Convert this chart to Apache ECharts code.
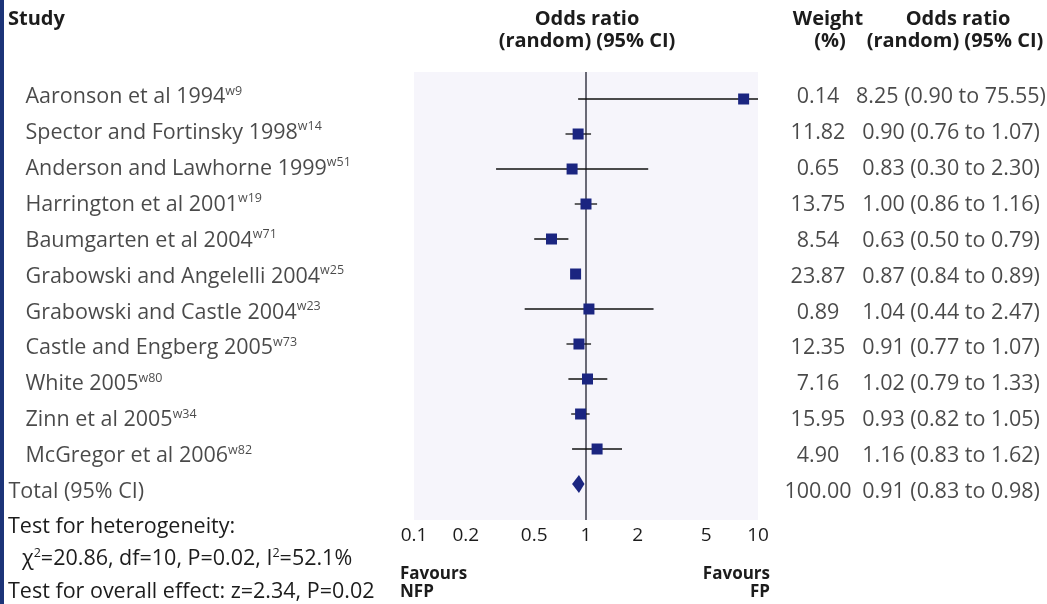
<!DOCTYPE html>
<html><head><meta charset="utf-8">
<script src="https://cdn.jsdelivr.net/npm/echarts@6/dist/echarts.min.js"></script>
<style>html,body{margin:0;padding:0;background:#fff}#c{width:1047px;height:604px}</style>
</head><body><div id="c"></div>
<script>
// ---------- data ----------
const studies = ['Aaronson et al 1994', 'Spector and Fortinsky 1998', 'Anderson and Lawhorne 1999',
  'Harrington et al 2001', 'Baumgarten et al 2004', 'Grabowski and Angelelli 2004',
  'Grabowski and Castle 2004', 'Castle and Engberg 2005', 'White 2005', 'Zinn et al 2005',
  'McGregor et al 2006'];
const refs = ['w9', 'w14', 'w51', 'w19', 'w71', 'w25', 'w23', 'w73', 'w80', 'w34', 'w82'];
const weights = [0.14, 11.82, 0.65, 13.75, 8.54, 23.87, 0.89, 12.35, 7.16, 15.95, 4.90];
const oddsRatio = [8.25, 0.90, 0.83, 1.00, 0.63, 0.87, 1.04, 0.91, 1.02, 0.93, 1.16];
const ciLow = [0.90, 0.76, 0.30, 0.86, 0.50, 0.84, 0.44, 0.77, 0.79, 0.82, 0.83];
const ciHigh = [75.55, 1.07, 2.30, 1.16, 0.79, 0.89, 2.47, 1.07, 1.33, 1.05, 1.62];
const totalLabel = 'Total (95% CI)';
const totalWeight = 100.00;
const totalEstimate = [0.91, 0.83, 0.98]; // OR, low, high
const xTicks = [0.1, 0.2, 0.5, 1, 2, 5, 10];

// ---------- layout ----------
const FONT = "'Open Sans', 'Noto Sans', sans-serif";
const TXT = '#1c1c1c';
const NAVY = '#1b2580';
const FS = 21.5;
const ROW0 = 99, ROWH = 35, GTOP = 72, GBOT = 520;   // plot rows
const TROW0 = 97, TROWH = 35.9;                      // text rows
const fmt = v => v.toFixed(2);
const totalRow = studies.length;

const chart = echarts.init(document.getElementById('c'), null, {renderer: 'canvas'});

const supRich = {sup: {fontSize: 12.5, fontFamily: FONT, color: TXT, padding: [0, 0, 12, 0]}};
const baseLabel = {show: true, fontFamily: FONT, fontSize: FS, color: TXT, rich: supRich};
const hidden = {color: 'rgba(0,0,0,0)'};

const nameData = studies.map((s, i) => ({value: [25, i], label: {formatter: s + '{sup|' + refs[i] + '}'}}));
nameData.push({value: [8, totalRow], label: {formatter: totalLabel}});
const weightData = weights.map((w, i) => ({value: [818, i], label: {formatter: fmt(w)}}));
weightData.push({value: [818, totalRow], label: {formatter: fmt(totalWeight)}});
const orData = oddsRatio.map((o, i) => ({value: [951, i], label: {formatter: fmt(o) + ' (' + fmt(ciLow[i]) + ' to ' + fmt(ciHigh[i]) + ')'}}));
orData.push({value: [951, totalRow], label: {formatter: fmt(totalEstimate[0]) + ' (' + fmt(totalEstimate[1]) + ' to ' + fmt(totalEstimate[2]) + ')'}});

const hdr = (x, y, text, align) => ({type: 'text', x, y, style: {text, align: align || 'center', verticalAlign: 'middle', fontFamily: FONT, fontSize: 20, fontWeight: 'bold', fill: TXT}});
const plain = (x, y, text, align, bold) => ({type: 'text', x, y, style: {text, align: align || 'left', verticalAlign: 'middle', fontFamily: FONT, fontSize: bold ? 17 : FS, fontWeight: bold ? 'bold' : 'normal', fill: TXT, rich: supRich}});

chart.setOption({
  animation: false,
  backgroundColor: '#ffffff',
  grid: [
    {left: 414, right: 1047 - 758, top: GTOP, bottom: 604 - GBOT, show: true, backgroundColor: '#f6f5fb', borderWidth: 0},
    {left: 0, right: 0, top: GTOP, bottom: 604 - GBOT, show: false}
  ],
  xAxis: [
    {type: 'log', logBase: 10, min: 0.1, max: 10, gridIndex: 0,
      axisLine: {show: false}, axisTick: {show: false}, splitLine: {show: false},
      axisLabel: {customValues: xTicks, margin: 6, fontFamily: FONT, fontSize: 19, color: TXT,
        formatter: v => String(+parseFloat(v).toPrecision(3))}},
    {type: 'value', min: 0, max: 1047, gridIndex: 1, show: false}
  ],
  yAxis: [
    {type: 'value', inverse: true, min: (GTOP - ROW0) / ROWH, max: (GBOT - ROW0) / ROWH, gridIndex: 0, show: false},
    {type: 'value', inverse: true, min: (GTOP - TROW0) / TROWH, max: (GBOT - TROW0) / TROWH, gridIndex: 1, show: false}
  ],
  series: [
    {
      type: 'custom', xAxisIndex: 0, yAxisIndex: 0, clip: true, z: 5,
      data: studies.map((s, i) => [i, oddsRatio[i], ciLow[i], ciHigh[i]]),
      encode: {x: [1, 2, 3], y: 0},
      renderItem: (params, api) => {
        const y = api.value(0);
        const c = api.coord([api.value(1), y]);
        const l = api.coord([api.value(2), y]);
        const h = api.coord([api.value(3), y]);
        const s = 11;
        return {type: 'group', children: [
          {type: 'line', shape: {x1: l[0], y1: l[1], x2: h[0], y2: h[1]}, style: {stroke: '#111', lineWidth: 1.3}},
          {type: 'rect', shape: {x: c[0] - s / 2, y: c[1] - s / 2, width: s, height: s}, style: {fill: NAVY}}
        ]};
      },
      markLine: {silent: true, symbol: 'none', label: {show: false}, z: 3,
        lineStyle: {color: '#3a3a48', width: 1.5, type: 'solid'}, data: [{xAxis: 1}]}
    },
    {
      type: 'custom', xAxisIndex: 0, yAxisIndex: 0, z: 5,
      data: [[totalRow, totalEstimate[0], totalEstimate[1], totalEstimate[2]]],
      encode: {x: [1, 2, 3], y: 0},
      renderItem: (params, api) => {
        const y = api.value(0);
        const c = api.coord([api.value(1), y]);
        const l = api.coord([api.value(2), y]);
        const h = api.coord([api.value(3), y]);
        return {type: 'polygon', shape: {points: [[l[0], c[1]], [c[0], c[1] - 9], [h[0], c[1]], [c[0], c[1] + 9]]}, style: {fill: NAVY}};
      }
    },
    {type: 'scatter', xAxisIndex: 1, yAxisIndex: 1, symbolSize: 1, itemStyle: hidden, silent: true,
      label: Object.assign({}, baseLabel, {position: 'right', distance: 0}), data: nameData},
    {type: 'scatter', xAxisIndex: 1, yAxisIndex: 1, symbolSize: 1, itemStyle: hidden, silent: true,
      label: Object.assign({}, baseLabel, {position: 'inside'}), data: weightData},
    {type: 'scatter', xAxisIndex: 1, yAxisIndex: 1, symbolSize: 1, itemStyle: hidden, silent: true,
      label: Object.assign({}, baseLabel, {position: 'inside'}), data: orData}
  ],
  graphic: [
    {type: 'rect', shape: {x: 0, y: 0, width: 4, height: 604}, style: {fill: '#1c3478'}},
    hdr(8, 19, 'Study', 'left'),
    hdr(587, 19, 'Odds ratio'),
    hdr(587, 41, '(random) (95% CI)'),
    hdr(828, 19, 'Weight'),
    hdr(830, 41, '(%)'),
    hdr(958, 19, 'Odds ratio'),
    hdr(955, 41, '(random) (95% CI)'),
    plain(8, 527, 'Test for heterogeneity:'),
    plain(22, 559, 'χ{sup|2}=20.86, df=10, P=0.02, I{sup|2}=52.1%'),
    plain(8, 592, 'Test for overall effect: z=2.34, P=0.02'),
    plain(400, 574, 'Favours', 'left', true),
    plain(400, 592, 'NFP', 'left', true),
    plain(770, 574, 'Favours', 'right', true),
    plain(770, 592, 'FP', 'right', true)
  ]
});
</script>
</body></html>
